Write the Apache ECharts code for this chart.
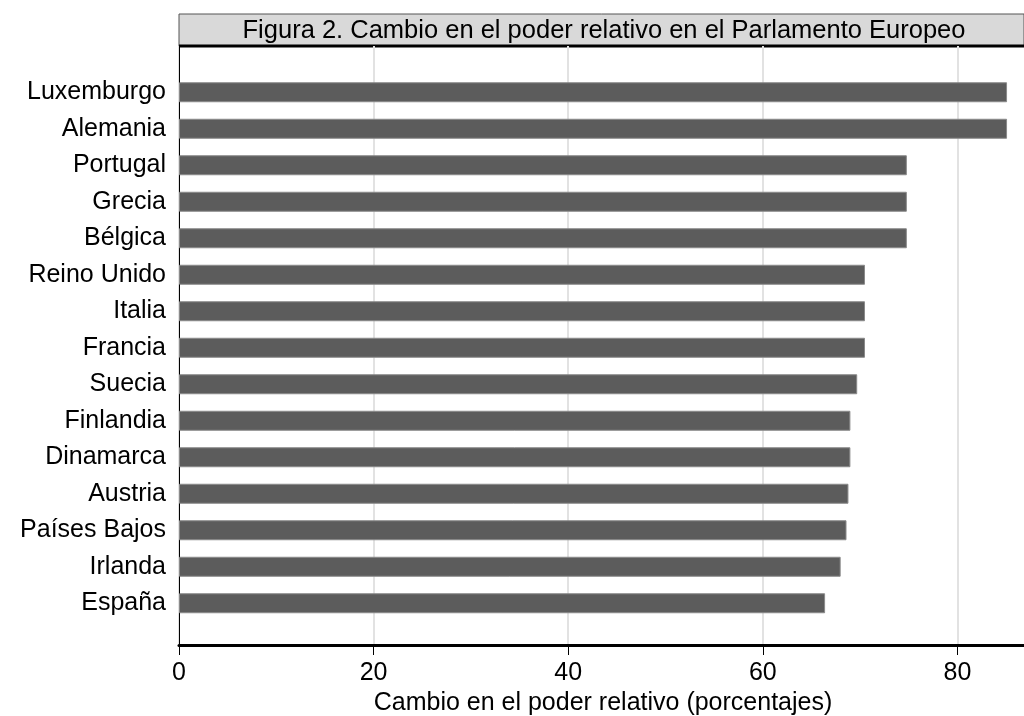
<!DOCTYPE html>
<html><head><meta charset="utf-8">
<script src="https://cdn.jsdelivr.net/npm/echarts@6/dist/echarts.min.js"></script>
<style>html,body{margin:0;padding:0;background:#fff}#c{width:1024px;height:716px}</style>
</head><body><div id="c"></div>
<script>
const categories = ["Luxemburgo","Alemania","Portugal","Grecia","Bélgica","Reino Unido","Italia","Francia","Suecia","Finlandia","Dinamarca","Austria","Países Bajos","Irlanda","España"];
const values = [85.1,85.1,74.8,74.8,74.8,70.5,70.5,70.5,69.7,69.0,69.0,68.8,68.6,68.0,66.4];
const xTicks = [0,20,40,60,80];
const titleText = "Figura 2. Cambio en el poder relativo en el Parlamento Europeo";
const xTitle = "Cambio en el poder relativo (porcentajes)";

const FONT = "'Liberation Sans',Arial,sans-serif";
const XMAX = 87.15;
const chart = echarts.init(document.getElementById('c'));
chart.setOption({
  animation:false,
  backgroundColor:'#fff',
  textStyle:{fontFamily:FONT},
  grid:[
    {left:179,right:-3,top:46,bottom:71,containLabel:false,outerBoundsMode:'none'},
    {left:179,right:-3,top:74,bottom:94.5,containLabel:false,outerBoundsMode:'none'}
  ],
  xAxis:[
    {gridIndex:0,type:'value',min:0,max:XMAX,interval:20,
     axisLine:{show:true,lineStyle:{color:'#000',width:3}},
     axisTick:{show:true,length:10,lineStyle:{color:'#000',width:1}},
     axisLabel:{color:'#000',fontSize:25,fontFamily:FONT,margin:16,
       formatter:v=>xTicks.includes(v)?String(v):''},
     splitLine:{show:true,lineStyle:{color:'#e2e2e2',width:2}},
     name:xTitle,nameLocation:'middle',nameGap:40,
     nameTextStyle:{color:'#000',fontSize:25,fontFamily:FONT}},
    {gridIndex:1,type:'value',min:0,max:XMAX,show:false}
  ],
  yAxis:[
    {gridIndex:0,type:'value',min:0,max:1,axisLine:{show:true,lineStyle:{color:'#000',width:1}},
     axisTick:{show:false},axisLabel:{show:false},splitLine:{show:false}},
    {gridIndex:1,type:'category',inverse:true,data:categories,
     axisLine:{show:false},axisTick:{show:false},
     axisLabel:{color:'#000',fontSize:25,fontFamily:FONT,margin:13}}
  ],
  series:[{
    type:'bar',xAxisIndex:1,yAxisIndex:1,data:values,barWidth:20,
    itemStyle:{color:'#5c5c5c',borderColor:'#8a8a8a',borderWidth:1},
    silent:true
  }],
  graphic:[
    {type:'rect',shape:{x:179,y:14,width:845,height:32},style:{fill:'#d9d9d9',stroke:'#555',lineWidth:1}},
    {type:'line',shape:{x1:179,y1:46,x2:1024,y2:46},style:{stroke:'#000',lineWidth:3}},
    {type:'text',x:604,y:31,style:{text:titleText,fill:'#000',font:'25.5px '+FONT,textAlign:'center',textVerticalAlign:'middle'}}
  ]
});
</script></body></html>
